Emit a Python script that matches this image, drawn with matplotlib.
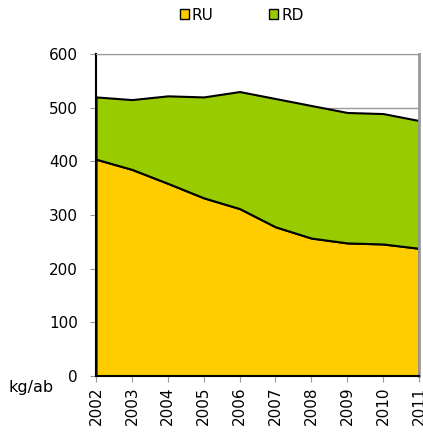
import matplotlib.pyplot as plt
from matplotlib.patches import Patch

# data (kg per inhabitant)
years = [2002, 2003, 2004, 2005, 2006, 2007, 2008, 2009, 2010, 2011]
ru = [404, 385, 359, 332, 312, 278, 257, 248, 246, 238]
total = [520, 515, 522, 520, 530, 517, 504, 491, 489, 476]
rd = [t - u for t, u in zip(total, ru)]

ru_color = '#FFCC00'
rd_color = '#99CC00'

fig = plt.figure(figsize=(4.23, 4.34), dpi=100)
ax = fig.add_axes([0.227, 0.1336, 0.7635, 0.742])

ax.stackplot(years, ru, rd, colors=[ru_color, rd_color],
             edgecolor='black', linewidth=1.5)

ax.set_xlim(2002, 2011)
ax.set_ylim(0, 600)
ax.set_yticks(range(0, 601, 100))
ax.set_xticks(years)
ax.set_xticklabels([str(y) for y in years], rotation=90)
ax.yaxis.grid(True, color='#999999', linewidth=1)
ax.set_axisbelow(True)

ax.spines['left'].set_color('black')
ax.spines['left'].set_linewidth(1.5)
ax.spines['bottom'].set_color('black')
ax.spines['bottom'].set_linewidth(1.5)
ax.spines['top'].set_color('#999999')
ax.spines['right'].set_color('#999999')
ax.spines['right'].set_linewidth(2)
ax.tick_params(axis='both', colors='#999999', labelcolor='black',
               labelsize=11, length=4)
ax.tick_params(axis='y', pad=9)

fig.text(0.019, 0.108, 'kg/ab', fontsize=11.5, ha='left', va='center')

handles = [Patch(facecolor=ru_color, edgecolor='black', label='RU'),
           Patch(facecolor=rd_color, edgecolor='black', label='RD')]
fig.legend(handles=handles, loc='center', bbox_to_anchor=(0.571, 0.965),
           ncol=2, frameon=False, fontsize=11, handlelength=0.6,
           handleheight=0.6, handletextpad=0.2, columnspacing=3.6)

fig.savefig('out.png', dpi=100)
